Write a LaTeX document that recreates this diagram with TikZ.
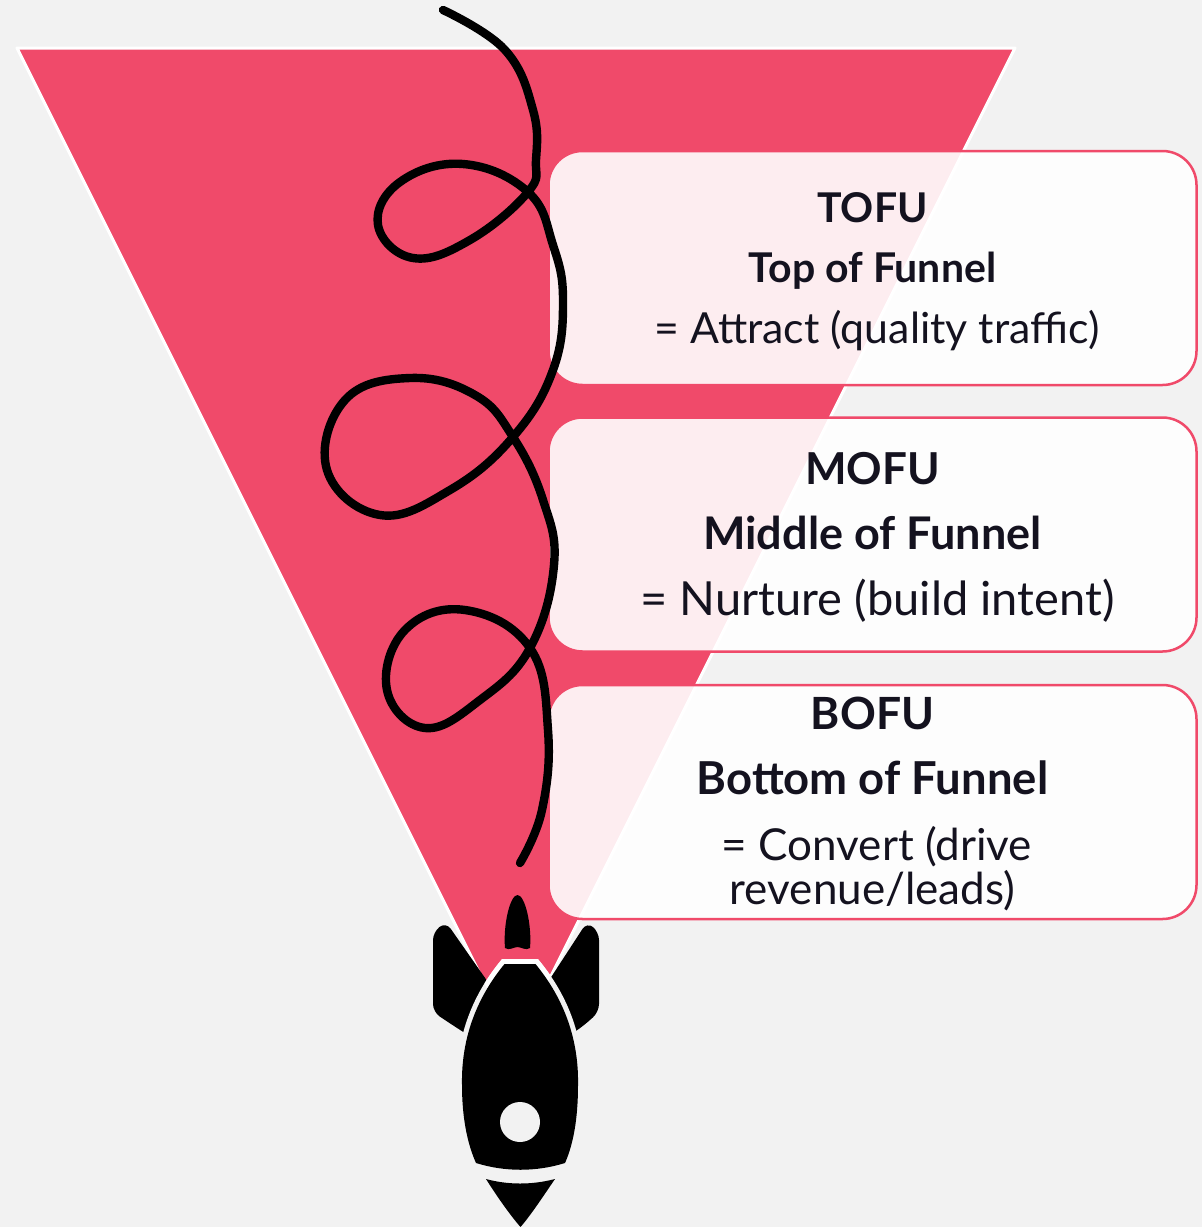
\documentclass[tikz,border=0pt]{standalone}
\usepackage{fontspec}
\setmainfont{Lato}
\usetikzlibrary{positioning}
\definecolor{funnelpink}{RGB}{240,74,106}
\definecolor{canvas}{RGB}{242,242,242}
\definecolor{ink}{RGB}{20,18,31}
\tikzset{
stage/.style={draw=funnelpink, line width=1.25pt, fill=white, fill opacity=0.9, rounded corners=17pt, minimum width=324pt, minimum height=117pt}, % the three boxes
abbr/.style={anchor=base, text=ink, font=\bfseries}, % TOFU, MOFU, BOFU
label/.style={anchor=base, text=ink}, % the lines under them
rocket/.style={fill=black, draw=none}, % every part of the rocket
}
\newcommand{\funnelpath}{(17,48) -- (1015,48) -- (516,1046) -- cycle}
\newcommand{\bodypath}{(504.5,964) -- (535.5,964) .. controls (561,995) and (579,1035) .. (578,1085) .. controls (578,1120) and (573,1145) .. (565,1163) .. controls (536,1172) and (505,1172) .. (476,1163) .. controls (468,1145) and (462,1120) .. (462,1085) .. controls (461,1035) and (479,995) .. (504.5,964) -- cycle}
\begin{document}
\begin{tikzpicture}[x=0.5pt, y=-0.5pt]
                \fill[canvas] (0,0) rectangle (1202,1227);
                \useasboundingbox (0,0) rectangle (1202,1227);

                % funnel
                \filldraw[fill=funnelpink, draw=white, line width=1.5pt, line join=round] \funnelpath;

                % rocket
                \path[rocket, rounded corners=4pt] (433,1012) -- (433,932) -- (446,922) -- (490,985) -- (476,1040) -- (457,1028) -- cycle;
                \path[rocket, rounded corners=4pt] (599,1012) -- (599,932) -- (587,922) -- (546,985) -- (562,1040) -- (582,1027) -- cycle;
                \path[rocket] (505,948) .. controls (503,925) and (510,895) .. (517.5,895) .. controls (525,895) and (532,925) .. (530,948) .. controls (526,951) and (521,947) .. (517.5,947) .. controls (514,947) and (509,951) .. (505,948) -- cycle;
                \draw[canvas, line width=5pt] \bodypath;
                \begin{scope}
                    \clip \funnelpath;
                    \draw[white, line width=5pt] \bodypath;
                \end{scope}
                \path[rocket] \bodypath;
                \path[rocket] (486,1179) .. controls (508,1185) and (532,1185) .. (555,1179) .. controls (544,1195) and (531,1215) .. (520.5,1227) .. controls (510,1215) and (496,1195) .. (486,1179) -- cycle;
                \fill[canvas] (520,1122) circle (10pt);

                % stages
                \node[stage] (tofu) at (872.5,268) {};
                \node[stage] (mofu) at (872.5,534.5) {};
                \node[stage] (bofu) at (872.5,802) {};

                \node[abbr, font=\bfseries\fontsize{20.5}{24}\selectfont] (tofuabbr) at (872.5,222) {TOFU};
                \node[abbr, font=\bfseries\fontsize{20.5}{24}\selectfont] (tofuname) at (872.5,282) {Top of Funnel};
                \node[label, font=\fontsize{21.4}{25}\selectfont] (tofugoal) at (877,343) {= Attract (quality traffic)};

                \node[abbr, font=\bfseries\fontsize{22}{26}\selectfont] (mofuabbr) at (872.5,484) {MOFU};
                \node[abbr, font=\bfseries\fontsize{22.5}{26}\selectfont] (mofuname) at (872.5,549) {Middle of Funnel};
                \node[label, font=\fontsize{23.5}{27}\selectfont] (mofugoal) at (877.5,615) {= Nurture (build intent)};

                \node[abbr, font=\bfseries\fontsize{22.2}{26}\selectfont] (bofuabbr) at (872.5,729) {BOFU};
                \node[abbr, font=\bfseries\fontsize{22.7}{26}\selectfont] (bofuname) at (872.5,794) {Bottom of Funnel};
                \node[label, font=\fontsize{22}{25}\selectfont] (bofugoal) at (877,860) {= Convert (drive};
                \node[label, font=\fontsize{22}{25}\selectfont] (bofugoalb) at (872.5,904) {revenue/leads)};

                % flight path
                \draw[line width=4.2pt, line cap=round] plot[smooth, tension=0.7] coordinates {(443,10) (505,50) (533,110) (536,160) (528,192) (470,240) (413,258) (378,225) (400,182) (463,164) (528,192) (553,245) (563,300) (553,370) (513,437) (450,490) (380,515) (327,470) (345,400) (410,378) (475,395) (513,437) (543,500) (554,565) (530,648) (480,700) (425,728) (387,690) (405,630) (465,610) (530,648) (548,730) (542,810) (520,863)};
            \end{tikzpicture}
\end{document}
